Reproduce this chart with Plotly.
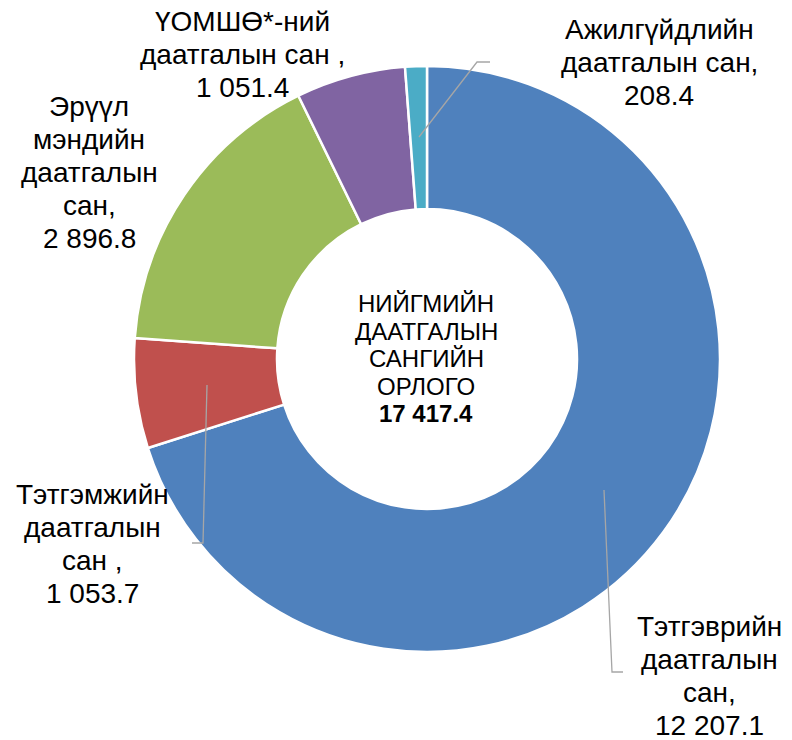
import plotly.graph_objects as go

# ---- data ----
categories = [
    "Тэтгэврийн даатгалын сан",
    "Тэтгэмжийн даатгалын сан ",
    "Эрүүл мэндийн даатгалын сан",
    "ҮОМШӨ*-ний даатгалын сан ",
    "Ажилгүйдлийн даатгалын сан",
]
values = [12207.1, 1053.7, 2896.8, 1051.4, 208.4]
colors = ["#4F81BD", "#C0504D", "#9BBB59", "#8064A2", "#4BACC6"]
# how each label is wrapped (number of words per line of the category text)
label_wrap = [[1, 1, 1], [1, 1, 1], [1, 1, 1, 1], [1, 2], [1, 2]]
center_lines = ["НИЙГМИЙН", "ДААТГАЛЫН", "САНГИЙН", "ОРЛОГО"]
total = 17417.4

W, H = 792, 740
FONT = "Liberation Sans, Arial, sans-serif"


def fmt(v):
    return f"{v:,.1f}".replace(",", " ")


def px(x):
    return x / W


def py(y):
    return 1 - y / H


fig = go.Figure()
fig.add_trace(go.Pie(
    labels=categories,
    values=values,
    hole=0.512,
    sort=False,
    direction="clockwise",
    rotation=0,
    marker=dict(colors=colors, line=dict(color="white", width=2.5)),
    textinfo="none",
    showlegend=False,
    domain=dict(x=[px(134), px(720)], y=[py(652), py(66)]),
))

# label layout (centre x, first-line baseline y) in window pixels
label_pos = [(709, 637), (92, 505), (89, 117), (242, 32), (659, 40)]
LS = 33
annotations = []
for cat, val, wrap, (cx, by) in zip(categories, values, label_wrap, label_pos):
    words = cat.split()
    lines = []
    i = 0
    for n in wrap:
        lines.append(" ".join(words[i:i + n]))
        i += n
    # trailing space of the category is kept before the separator (as in Excel)
    lines[-1] = lines[-1] + (" ," if cat.endswith(" ") else ",")
    lines.append(fmt(val))
    for k, t in enumerate(lines):
        annotations.append(dict(
            x=px(cx), y=py(by + k * LS), xref="paper", yref="paper",
            text=t, showarrow=False, xanchor="center", yanchor="bottom",
            yshift=-7,
            font=dict(family=FONT, size=28, color="#000000"),
        ))

# centre text
CLS = 27.5
for k, t in enumerate(center_lines + ["<b>" + fmt(total) + "</b>"]):
    annotations.append(dict(
        x=px(426), y=py(313 + k * CLS), xref="paper", yref="paper",
        text=t, showarrow=False, xanchor="center", yanchor="bottom",
        yshift=-6,
        font=dict(family=FONT, size=24, color="#000000"),
    ))

# leader lines
leaders = [
    [(604, 490), (612, 672), (623, 672)],
    [(207, 385), (203, 543), (192, 543)],
    [(419, 137), (477, 62), (490, 62)],
]
shapes = []
for pts in leaders:
    path = "M " + " L ".join(f"{px(x)},{py(y)}" for x, y in pts)
    shapes.append(dict(type="path", xref="paper", yref="paper", path=path,
                       line=dict(color="#A6A6A6", width=1.3)))

fig.update_layout(
    width=W, height=H,
    margin=dict(l=0, r=0, t=0, b=0),
    paper_bgcolor="white", plot_bgcolor="white",
    annotations=annotations, shapes=shapes,
)

fig.write_html(
    "out.html",
    config={"displayModeBar": False},
    post_script="document.body.style.margin='0px';"
                "document.body.style.overflow='hidden';",
)
